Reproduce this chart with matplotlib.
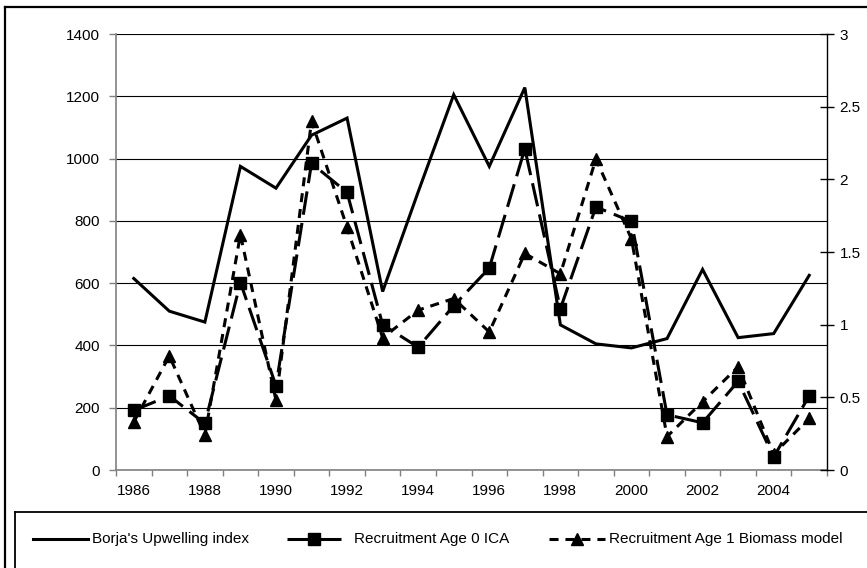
import matplotlib
matplotlib.use("Agg")
import matplotlib.pyplot as plt
from matplotlib.lines import Line2D
from matplotlib.ticker import FixedLocator, NullFormatter

plt.rcParams['font.family'] = ['Liberation Sans', 'DejaVu Sans']
plt.rcParams['lines.scale_dashes'] = False

# ---- data -------------------------------------------------------------
years = list(range(1986, 2006))
upwelling = [615, 510, 475, 975, 905, 1075, 1130, 573, 893, 1205,
             975, 1228, 466, 405, 392, 422, 644, 425, 438, 625]
age0_ica = [0.41, 0.51, 0.32, 1.29, 0.58, 2.11, 1.91, 1.00, 0.845, 1.13,
            1.39, 2.21, 1.11, 1.81, 1.71, 0.38, 0.325, 0.61, 0.09, 0.51]
age1_biomass = [0.33, 0.785, 0.24, 1.62, 0.48, 2.40, 1.67, 0.91, 1.10, 1.18,
                0.95, 1.49, 1.35, 2.14, 1.59, 0.23, 0.47, 0.71, 0.11, 0.355]
left_ticks = [0, 200, 400, 600, 800, 1000, 1200, 1400]
right_ticks = [0, 0.5, 1, 1.5, 2, 2.5, 3]
right_labels = ['0', '0.5', '1', '1.5', '2', '2.5', '3']
series_names = ["Borja's Upwelling index", "Recruitment Age 0 ICA",
                "Recruitment Age 1 Biomass model"]

# ---- figure -----------------------------------------------------------
W, H = 867, 568
fig = plt.figure(figsize=(W / 100, H / 100), dpi=100)
FS = 11


def fx(px):
    return px / W


def fy(py):
    return (H - py) / H


ax = fig.add_axes([fx(116), fy(470), fx(827) - fx(116), fy(34) - fy(470)])
ax2 = ax.twinx()

x = list(range(len(years)))
LW = 2.2

# styles
solid = dict(color='black', lw=LW, solid_joinstyle='miter')
ica_style = dict(color='black', lw=LW, dashes=(17, 6), marker='s',
                 markersize=8, markerfacecolor='black', markeredgecolor='black')
bio_style = dict(color='black', lw=LW, dashes=(6.5, 5), marker='^',
                 markersize=8.5, markerfacecolor='black', markeredgecolor='black')

ax.plot(x, upwelling, zorder=3, **solid)
ax2.plot(x, age0_ica, zorder=3, **ica_style)
ax2.plot(x, age1_biomass, zorder=4, **bio_style)

# primary axis
ax.set_xlim(-0.5, len(years) - 0.5)
ax.set_ylim(0, 1400)
ax.set_yticks(left_ticks)
ax.set_yticklabels([str(t) for t in left_ticks], fontsize=FS)
ax.yaxis.grid(True, color='black', lw=0.8)
ax.set_axisbelow(True)

bounds = [i - 0.5 for i in range(len(years) + 1)]
ax.xaxis.set_major_locator(FixedLocator(bounds))
ax.xaxis.set_major_formatter(NullFormatter())
ax.set_xticks(x[::2], minor=True)
ax.set_xticklabels([str(y) for y in years[::2]], minor=True, fontsize=FS)
ax.tick_params(axis='x', which='major', direction='out', length=4,
               color='#808080', width=1)
ax.tick_params(axis='x', which='minor', length=0, pad=10)
ax.tick_params(axis='y', direction='out', length=5, color='#808080',
               width=1, pad=6.5)

for s in ['top', 'right']:
    ax.spines[s].set_visible(False)
ax.spines['left'].set_color('#808080')
ax.spines['bottom'].set_color('#808080')
ax.spines['left'].set_linewidth(1.2)
ax.spines['bottom'].set_linewidth(1.2)

# secondary axis
ax2.set_ylim(0, 3)
ax2.set_yticks(right_ticks)
ax2.set_yticklabels(right_labels, fontsize=FS)
ax2.tick_params(axis='y', direction='inout', length=10, color='black',
                width=1, pad=4)
for s in ['top', 'left', 'bottom']:
    ax2.spines[s].set_visible(False)
ax2.spines['right'].set_color('black')
ax2.spines['right'].set_linewidth(1)

# outer chart frame (extends past the canvas edge)
fig.add_artist(Line2D([fx(5), fx(5)], [fy(7), fy(H + 10)],
                      transform=fig.transFigure, color='black', lw=1.6))
fig.add_artist(Line2D([fx(5), fx(W + 10)], [fy(7), fy(7)],
                      transform=fig.transFigure, color='black', lw=1.6))

# legend box
fig.add_artist(Line2D([fx(15), fx(15)], [fy(512), fy(H + 10)],
                      transform=fig.transFigure, color='black', lw=1.3))
fig.add_artist(Line2D([fx(15), fx(W + 10)], [fy(512), fy(512)],
                      transform=fig.transFigure, color='black', lw=1.3))

# legend entries
ly = fy(539)
entries = [
    (33, 88, 92, solid, None),
    (287, 341, 354, ica_style, 's'),
    (549, 605, 609, bio_style, '^'),
]
for name, (x0, x1, tx, style, mk) in zip(series_names, entries):
    line_kw = {k: v for k, v in style.items()
               if k not in ('marker', 'markersize', 'markerfacecolor',
                            'markeredgecolor')}
    fig.add_artist(Line2D([fx(x0), fx(x1)], [ly, ly],
                          transform=fig.transFigure, **line_kw))
    if mk is not None:
        fig.add_artist(Line2D([fx((x0 + x1) / 2)], [ly],
                              transform=fig.transFigure, linestyle='none',
                              marker=mk, markersize=style['markersize'],
                              color='black'))
    fig.text(fx(tx), ly, name, fontsize=FS, va='center', ha='left')

fig.savefig('out.png', dpi=100)
